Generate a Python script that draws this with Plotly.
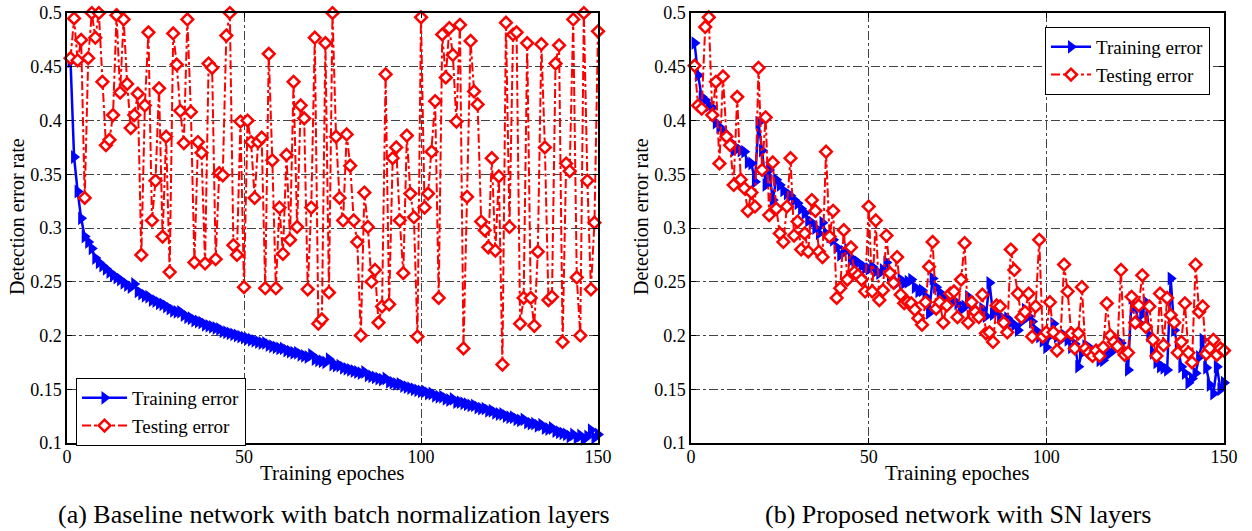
import plotly.graph_objects as go

epochs = list(range(1, 151))

# (a) Baseline network with batch normalization layers
train_a = [0.455, 0.366, 0.334, 0.309, 0.292, 0.287, 0.281, 0.272, 0.268, 0.265,
           0.262, 0.259, 0.256, 0.254, 0.252, 0.249, 0.247, 0.245, 0.248, 0.241,
           0.239, 0.237, 0.236, 0.233, 0.232, 0.230, 0.229, 0.227, 0.225, 0.223,
           0.222, 0.222, 0.219, 0.217, 0.216, 0.214, 0.213, 0.212, 0.210, 0.209,
           0.208, 0.207, 0.206, 0.204, 0.203, 0.202, 0.201, 0.200, 0.199, 0.198,
           0.197, 0.196, 0.195, 0.194, 0.193, 0.193, 0.191, 0.190, 0.189, 0.188,
           0.188, 0.186, 0.185, 0.184, 0.184, 0.182, 0.181, 0.180, 0.182, 0.178,
           0.177, 0.176, 0.175, 0.178, 0.173, 0.172, 0.172, 0.170, 0.169, 0.168,
           0.167, 0.166, 0.165, 0.166, 0.163, 0.162, 0.161, 0.160, 0.159, 0.160,
           0.157, 0.156, 0.155, 0.155, 0.153, 0.152, 0.151, 0.150, 0.149, 0.148,
           0.148, 0.146, 0.146, 0.144, 0.143, 0.143, 0.141, 0.140, 0.141, 0.138,
           0.138, 0.137, 0.136, 0.135, 0.135, 0.133, 0.132, 0.132, 0.130, 0.130,
           0.128, 0.127, 0.127, 0.125, 0.124, 0.124, 0.122, 0.121, 0.122, 0.119,
           0.118, 0.118, 0.116, 0.117, 0.114, 0.113, 0.114, 0.111, 0.110, 0.109,
           0.108, 0.106, 0.108, 0.105, 0.107, 0.104, 0.106, 0.112, 0.105, 0.108]

test_a = [0.458, 0.495, 0.456, 0.475, 0.328, 0.458, 0.500, 0.477, 0.500, 0.436,
          0.377, 0.382, 0.405, 0.498, 0.426, 0.494, 0.434, 0.393, 0.405, 0.425,
          0.275, 0.414, 0.482, 0.307, 0.344, 0.430, 0.292, 0.385, 0.259, 0.481,
          0.452, 0.409, 0.379, 0.494, 0.408, 0.268, 0.380, 0.370, 0.267, 0.453,
          0.449, 0.271, 0.351, 0.349, 0.479, 0.500, 0.284, 0.275, 0.399, 0.245,
          0.400, 0.380, 0.328, 0.380, 0.384, 0.244, 0.462, 0.363, 0.244, 0.319,
          0.276, 0.368, 0.289, 0.436, 0.301, 0.414, 0.402, 0.243, 0.319, 0.477,
          0.211, 0.215, 0.472, 0.240, 0.500, 0.385, 0.328, 0.307, 0.387, 0.358,
          0.307, 0.287, 0.200, 0.333, 0.301, 0.250, 0.261, 0.212, 0.227, 0.443,
          0.229, 0.365, 0.375, 0.307, 0.258, 0.386, 0.332, 0.310, 0.199, 0.496,
          0.319, 0.332, 0.371, 0.418, 0.235, 0.480, 0.440, 0.486, 0.461, 0.399,
          0.489, 0.188, 0.329, 0.474, 0.427, 0.415, 0.306, 0.298, 0.282, 0.365,
          0.279, 0.348, 0.173, 0.491, 0.301, 0.480, 0.482, 0.211, 0.235, 0.472,
          0.235, 0.209, 0.278, 0.471, 0.375, 0.233, 0.236, 0.453, 0.470, 0.194,
          0.360, 0.353, 0.494, 0.254, 0.200, 0.500, 0.344, 0.243, 0.305, 0.483]

# (b) Proposed network with SN layers
train_b = [0.472, 0.442, 0.422, 0.419, 0.414, 0.412, 0.398, 0.394, 0.390, 0.387,
           0.380, 0.372, 0.374, 0.372, 0.371, 0.361, 0.360, 0.343, 0.398, 0.372,
           0.340, 0.354, 0.326, 0.345, 0.340, 0.335, 0.332, 0.330, 0.326, 0.323,
           0.318, 0.314, 0.307, 0.305, 0.300, 0.295, 0.305, 0.295, 0.292, 0.289,
           0.282, 0.275, 0.278, 0.280, 0.270, 0.270, 0.268, 0.265, 0.263, 0.262,
           0.264, 0.260, 0.258, 0.261, 0.268, 0.255, 0.250, 0.249, 0.252, 0.249,
           0.250, 0.252, 0.245, 0.241, 0.242, 0.236, 0.221, 0.253, 0.245, 0.240,
           0.236, 0.232, 0.230, 0.232, 0.230, 0.224, 0.227, 0.236, 0.227, 0.224,
           0.221, 0.225, 0.218, 0.249, 0.220, 0.224, 0.218, 0.214, 0.216, 0.212,
           0.210, 0.205, 0.213, 0.224, 0.218, 0.213, 0.205, 0.199, 0.195, 0.189,
           0.200, 0.211, 0.199, 0.196, 0.200, 0.196, 0.189, 0.192, 0.171, 0.184,
           0.190, 0.189, 0.186, 0.184, 0.177, 0.177, 0.182, 0.184, 0.189, 0.190,
           0.193, 0.186, 0.168, 0.235, 0.227, 0.212, 0.220, 0.231, 0.200, 0.184,
           0.175, 0.171, 0.170, 0.168, 0.253, 0.205, 0.190, 0.171, 0.165, 0.156,
           0.160, 0.165, 0.180, 0.196, 0.170, 0.154, 0.146, 0.171, 0.150, 0.156]

test_b = [0.451, 0.414, 0.411, 0.487, 0.496, 0.405, 0.436, 0.360, 0.441, 0.385,
          0.377, 0.340, 0.422, 0.345, 0.337, 0.316, 0.333, 0.320, 0.449, 0.354,
          0.403, 0.312, 0.361, 0.318, 0.295, 0.287, 0.320, 0.365, 0.293, 0.306,
          0.280, 0.295, 0.278, 0.326, 0.316, 0.278, 0.273, 0.371, 0.292, 0.316,
          0.235, 0.244, 0.298, 0.252, 0.282, 0.259, 0.256, 0.252, 0.241, 0.320,
          0.241, 0.307, 0.233, 0.242, 0.293, 0.258, 0.249, 0.273, 0.238, 0.230,
          0.231, 0.230, 0.224, 0.216, 0.210, 0.231, 0.264, 0.287, 0.225, 0.231,
          0.212, 0.228, 0.239, 0.241, 0.217, 0.252, 0.286, 0.212, 0.231, 0.222,
          0.217, 0.238, 0.202, 0.203, 0.194, 0.228, 0.227, 0.212, 0.203, 0.280,
          0.261, 0.239, 0.217, 0.222, 0.239, 0.199, 0.227, 0.289, 0.199, 0.203,
          0.231, 0.203, 0.186, 0.199, 0.266, 0.241, 0.202, 0.188, 0.202, 0.245,
          0.188, 0.184, 0.181, 0.186, 0.181, 0.189, 0.230, 0.200, 0.194, 0.190,
          0.261, 0.182, 0.184, 0.236, 0.212, 0.228, 0.256, 0.208, 0.227, 0.196,
          0.181, 0.239, 0.191, 0.235, 0.219, 0.212, 0.184, 0.194, 0.230, 0.184,
          0.175, 0.266, 0.222, 0.227, 0.183, 0.188, 0.196, 0.182, 0.188, 0.186]

x_ticks = [0, 50, 100, 150]
y_ticks = [0.1, 0.15, 0.2, 0.25, 0.3, 0.35, 0.4, 0.45, 0.5]
y_tick_text = ["0.1", "0.15", "0.2", "0.25", "0.3", "0.35", "0.4", "0.45", "0.5"]

FONT = "Liberation Serif"
BLUE = "#0000ff"
RED = "#ff0000"

# body margin is removed by post_script, so the figure fills the window
W, H = 1252, 531


def px(xp):
    return xp / W


def py(yp):
    return (H - yp) / H


fig = go.Figure()


def add_pair(train, test, xa, ya, legend):
    fig.add_trace(go.Scatter(
        x=epochs, y=train, name="Training error", mode="lines+markers",
        line=dict(color=BLUE, width=2.5),
        marker=dict(symbol="triangle-right", size=12, color=BLUE),
        xaxis=xa, yaxis=ya, legend=legend, cliponaxis=False))
    fig.add_trace(go.Scatter(
        x=epochs, y=test, name="Testing error", mode="lines+markers",
        line=dict(color=RED, width=2, dash="dashdot"),
        marker=dict(symbol="diamond", size=9, color="white",
                    line=dict(color=RED, width=2.5)),
        xaxis=xa, yaxis=ya, legend=legend, cliponaxis=False))


add_pair(train_a, test_a, "x", "y", "legend")
add_pair(train_b, test_b, "x2", "y2", "legend2")

ydom = [py(443), py(13)]
xdom1 = [px(67), px(598)]
xdom2 = [px(691), px(1224)]

axis_common = dict(
    showline=True, linecolor="black", linewidth=1.5, mirror="ticks",
    ticks="inside", ticklen=5, tickcolor="black",
    showgrid=True, gridcolor="#444444", griddash="dashdot", gridwidth=1,
    zeroline=False, tickfont=dict(family=FONT, size=18, color="black"),
    automargin=False, ticklabeloverflow="allow",
)
yrange = [0.1, 0.5]

fig.update_layout(
    width=W, height=H,
    margin=dict(l=0, r=0, t=0, b=0),
    paper_bgcolor="white", plot_bgcolor="white",
    font=dict(family=FONT, color="black"),
    xaxis=dict(domain=xdom1, range=[0, 150], tickvals=x_ticks, anchor="y",
               ticklabelstandoff=-3, **axis_common),
    yaxis=dict(domain=ydom, range=yrange, tickvals=y_ticks, ticktext=y_tick_text,
               anchor="x", **axis_common),
    xaxis2=dict(domain=xdom2, range=[0, 150], tickvals=x_ticks, anchor="y2",
                ticklabelstandoff=-3, **axis_common),
    yaxis2=dict(domain=ydom, range=yrange, tickvals=y_ticks, ticktext=y_tick_text,
                anchor="x2", **axis_common),
    legend=dict(x=px(76), y=py(378), xanchor="left", yanchor="top",
                bgcolor="white", bordercolor="black", borderwidth=1,
                font=dict(family=FONT, size=19), tracegroupgap=0, itemwidth=45),
    legend2=dict(x=px(1045), y=py(27), xanchor="left", yanchor="top",
                 bgcolor="white", bordercolor="black", borderwidth=1,
                 font=dict(family=FONT, size=19), tracegroupgap=0, itemwidth=40),
    showlegend=True,
)

annos = [
    ("Detection error rate", 17, 217, -90, 20),
    ("Detection error rate", 641, 217, -90, 20),
    ("Training epoches", 332, 473, 0, 21),
    ("Training epoches", 957, 473, 0, 21),
    ("(a) Baseline network with batch normalization layers", 334, 514, 0, 26),
    ("(b) Proposed network with SN layers", 958, 514, 0, 26),
]
for text, xp, yp, ang, size in annos:
    fig.add_annotation(xref="paper", yref="paper", showarrow=False,
                       xanchor="center", yanchor="middle",
                       font=dict(family=FONT, color="black", size=size),
                       text=text, x=px(xp), y=py(yp), textangle=ang)

fig.write_html("out.html",
               config={"displayModeBar": False},
               post_script="document.body.style.margin='0px';"
                           "document.body.style.overflow='hidden';")
